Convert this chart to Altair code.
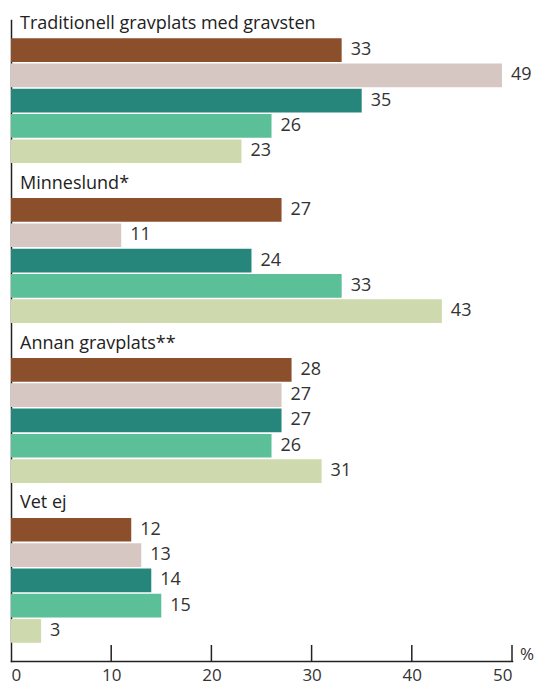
import altair as alt
import pandas as pd

groups = ["Traditionell gravplats med gravsten", "Minneslund*", "Annan gravplats**", "Vet ej"]
series = ["Serie 1", "Serie 2", "Serie 3", "Serie 4", "Serie 5"]
colors = ["#8B4F2B", "#D7C7C3", "#26867B", "#5BBF98", "#CEDAAE"]
values = {
    "Serie 1": [33, 27, 28, 12],
    "Serie 2": [49, 11, 27, 13],
    "Serie 3": [35, 24, 27, 14],
    "Serie 4": [26, 33, 26, 15],
    "Serie 5": [23, 43, 31, 3],
}
axis_values = [0, 10, 20, 30, 40, 50]
tick_values = [10, 20, 30, 40, 50]

rows = []
for s in series:
    for g, v in zip(groups, values[s]):
        rows.append({"group": g, "series": s, "value": v})
df = pd.DataFrame(rows)
titles = pd.DataFrame({"group": groups, "zero": [0] * len(groups)})
ticks = pd.DataFrame({"t": tick_values})

W, H = 501, 641
FONT = "Open Sans"

yscale = alt.Scale(domain=groups, paddingInner=0.219, paddingOuter=0.114)
yoff = alt.YOffset("series:N", sort=series, scale=alt.Scale(domain=series, paddingInner=0.064, paddingOuter=0))
xscale = alt.Scale(domain=[0, 50], nice=False, zero=True)

bars = alt.Chart(df).mark_bar(cornerRadius=0).encode(
    x=alt.X("value:Q", scale=xscale,
            axis=alt.Axis(values=axis_values, ticks=False, grid=False, title=None,
                          domainColor="#222", domainWidth=1.5, labelFont=FONT, labelFontSize=17,
                          labelColor="#333", labelPadding=6)),
    y=alt.Y("group:N", scale=yscale, sort=groups,
            axis=alt.Axis(labels=False, ticks=False, title=None, grid=False,
                          domainColor="#222", domainWidth=1.5)),
    yOffset=yoff,
    color=alt.Color("series:N", scale=alt.Scale(domain=series, range=colors), legend=None),
)

labels = alt.Chart(df).mark_text(align="left", baseline="middle", dx=9, font=FONT,
                                 fontSize=18, color="#333").encode(
    x=alt.X("value:Q", scale=xscale),
    y=alt.Y("group:N", scale=yscale, sort=groups),
    yOffset=yoff,
    text=alt.Text("value:Q"),
)

group_titles = alt.Chart(titles).mark_text(align="left", baseline="alphabetic", dx=9, dy=-9.5,
                                           font=FONT, fontSize=18, fontWeight=500,
                                           color="#222").encode(
    x=alt.X("zero:Q", scale=xscale),
    y=alt.Y("group:N", scale=yscale, sort=groups, bandPosition=0),
    text="group:N",
)

tick_rules = alt.Chart(ticks).mark_rule(color="#222", strokeWidth=1.5).encode(
    x=alt.X("t:Q", scale=xscale),
    y=alt.value(H - 16),
    y2=alt.value(H),
)

pct = alt.Chart(pd.DataFrame({"x": [50], "t": ["%"]})).mark_text(
    align="left", baseline="alphabetic", dx=8, font=FONT, fontSize=17, color="#333").encode(
    x=alt.X("x:Q", scale=xscale),
    y=alt.value(H - 1),
    text="t:N",
)

chart = alt.layer(bars, labels, group_titles, tick_rules, pct).properties(
    width=W, height=H,
    autosize=alt.AutoSizeParams(type="none"),
    padding={"left": 3, "top": 12, "right": 24, "bottom": 26},
).configure_view(stroke=None).configure_axis(domainCap="square")

chart.save("out.html", embed_options={"renderer": "svg", "actions": False})
